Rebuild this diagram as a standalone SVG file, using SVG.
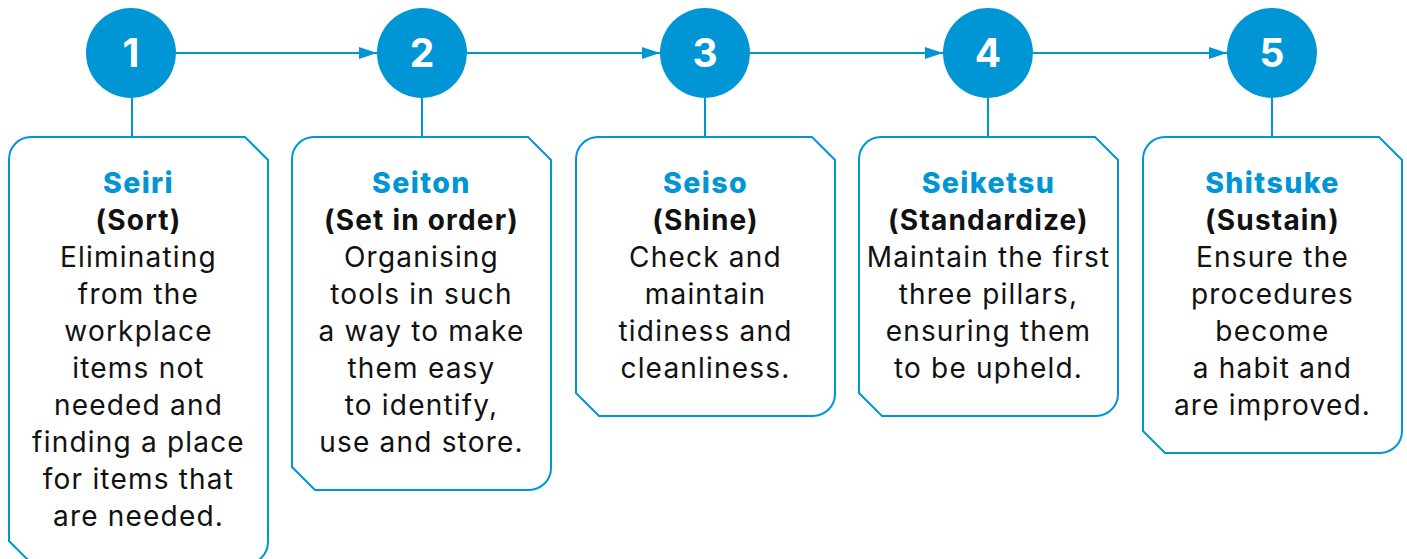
<svg xmlns="http://www.w3.org/2000/svg" width="1407" height="559" viewBox="0 0 1407 559">
<defs>
<marker id="arr" markerWidth="18" markerHeight="12" refX="18" refY="6" orient="auto" markerUnits="userSpaceOnUse">
<path d="M0,0 L18,6 L0,12 Z" fill="#0096d6"/>
</marker>
<style>
.box{fill:#fff;stroke:#0096d6;stroke-width:2}
.circ{fill:#0096d6}
.num{font-family:Inter,"Liberation Sans",sans-serif;font-weight:700;font-size:39px;fill:#fff;text-anchor:middle}
.stem{stroke:#0096d6;stroke-width:2}
.conn{stroke:#0096d6;stroke-width:2;fill:none}
.t{font-family:Inter,"Liberation Sans",sans-serif;font-size:28px;fill:#111;text-anchor:middle;letter-spacing:1.2px}
.h{font-weight:800;fill:#0096d6;font-size:28.5px;letter-spacing:1.4px}
.s{font-weight:700;fill:#111}
</style>
</defs>
<rect width="1407" height="559" fill="#fff"/>
<g id="connectors">
<line class="conn" x1="176" y1="53" x2="377" y2="53" marker-end="url(#arr)"/>
<line class="conn" x1="467" y1="53" x2="660" y2="53" marker-end="url(#arr)"/>
<line class="conn" x1="750" y1="53" x2="943" y2="53" marker-end="url(#arr)"/>
<line class="conn" x1="1033" y1="53" x2="1227" y2="53" marker-end="url(#arr)"/>
</g>
<g id="node1">
<line class="stem" x1="132" y1="98" x2="132" y2="137"/>
<circle class="circ" cx="131" cy="53" r="45"/>
<text class="num" x="131" y="67">1</text>
<path class="box" d="M9,159 A22,22 0 0 1 31,137 H245 L268,160 V542 A22,22 0 0 1 246,564 H32 L9,541 Z"/>
<text class="t"><tspan class="h" x="138.5" y="193">Seiri</tspan><tspan class="s" x="138.5" y="230">(Sort)</tspan><tspan x="138.5" y="267">Eliminating</tspan><tspan x="138.5" y="304">from the</tspan><tspan x="138.5" y="341">workplace</tspan><tspan x="138.5" y="378">items not</tspan><tspan x="138.5" y="415">needed and</tspan><tspan x="138.5" y="452">finding a place</tspan><tspan x="138.5" y="489">for items that</tspan><tspan x="138.5" y="526">are needed.</tspan></text>
</g>
<g id="node2">
<line class="stem" x1="422" y1="98" x2="422" y2="137"/>
<circle class="circ" cx="422" cy="53" r="45"/>
<text class="num" x="422" y="67">2</text>
<path class="box" d="M292,159 A22,22 0 0 1 314,137 H528 L551,160 V468 A22,22 0 0 1 529,490 H315 L292,467 Z"/>
<text class="t"><tspan class="h" x="421.5" y="193">Seiton</tspan><tspan class="s" x="421.5" y="230">(Set in order)</tspan><tspan x="421.5" y="267">Organising</tspan><tspan x="421.5" y="304">tools in such</tspan><tspan x="421.5" y="341">a way to make</tspan><tspan x="421.5" y="378">them easy</tspan><tspan x="421.5" y="415">to identify,</tspan><tspan x="421.5" y="452">use and store.</tspan></text>
</g>
<g id="node3">
<line class="stem" x1="705" y1="98" x2="705" y2="137"/>
<circle class="circ" cx="705" cy="53" r="45"/>
<text class="num" x="705" y="67">3</text>
<path class="box" d="M576,159 A22,22 0 0 1 598,137 H812 L835,160 V394 A22,22 0 0 1 813,416 H599 L576,393 Z"/>
<text class="t"><tspan class="h" x="705.5" y="193">Seiso</tspan><tspan class="s" x="705.5" y="230">(Shine)</tspan><tspan x="705.5" y="267">Check and</tspan><tspan x="705.5" y="304">maintain</tspan><tspan x="705.5" y="341">tidiness and</tspan><tspan x="705.5" y="378">cleanliness.</tspan></text>
</g>
<g id="node4">
<line class="stem" x1="988" y1="98" x2="988" y2="137"/>
<circle class="circ" cx="988" cy="53" r="45"/>
<text class="num" x="988" y="67">4</text>
<path class="box" d="M859,159 A22,22 0 0 1 881,137 H1095 L1118,160 V394 A22,22 0 0 1 1096,416 H882 L859,393 Z"/>
<text class="t"><tspan class="h" x="988.5" y="193">Seiketsu</tspan><tspan class="s" x="988.5" y="230">(Standardize)</tspan><tspan x="988.5" y="267">Maintain the first</tspan><tspan x="988.5" y="304">three pillars,</tspan><tspan x="988.5" y="341">ensuring them</tspan><tspan x="988.5" y="378">to be upheld.</tspan></text>
</g>
<g id="node5">
<line class="stem" x1="1272" y1="98" x2="1272" y2="137"/>
<circle class="circ" cx="1272" cy="53" r="45"/>
<text class="num" x="1272" y="67">5</text>
<path class="box" d="M1143,159 A22,22 0 0 1 1165,137 H1379 L1402,160 V431 A22,22 0 0 1 1380,453 H1165 L1143,431 Z"/>
<text class="t"><tspan class="h" x="1272.5" y="193">Shitsuke</tspan><tspan class="s" x="1272.5" y="230">(Sustain)</tspan><tspan x="1272.5" y="267">Ensure the</tspan><tspan x="1272.5" y="304">procedures</tspan><tspan x="1272.5" y="341">become</tspan><tspan x="1272.5" y="378">a habit and</tspan><tspan x="1272.5" y="415">are improved.</tspan></text>
</g>
</svg>
